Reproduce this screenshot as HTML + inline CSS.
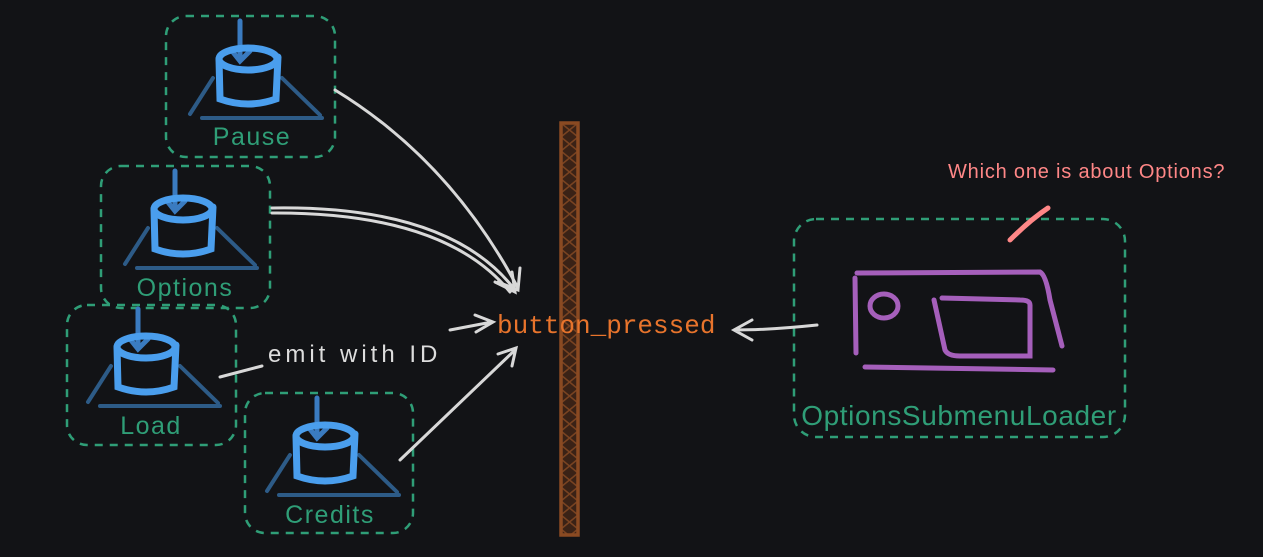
<!DOCTYPE html>
<html><head><style>
html,body{margin:0;padding:0;background:#121316;}
svg{display:block}
</style></head><body>
<svg width="1263" height="557" viewBox="0 0 1263 557" xmlns="http://www.w3.org/2000/svg" font-family="Liberation Sans, sans-serif">
<defs>
<pattern id="x" width="17" height="14" patternUnits="userSpaceOnUse" x="561" y="123">
<path d="M0 0 L17 14 M17 0 L0 14" stroke="#7a4321" stroke-width="1.5"/>
</pattern>
<g id="icon">
<path d="M-35 49 L-58 85 M34 49 L72 86" stroke="#2d5b87" stroke-width="4" fill="none" stroke-linecap="round"/>
<path d="M-46 89 L74 89" stroke="#2d5b87" stroke-width="4" stroke-linecap="round"/>
<path d="M-8 -8 L-8 30 M-16 22 L-8 32 L2 22" stroke="#3a7bc0" stroke-width="5" fill="none" stroke-linecap="round"/>
<ellipse cx="0" cy="30" rx="29" ry="11" fill="none" stroke="#4a9eed" stroke-width="7"/>
<path d="M-29 30 L-28 70 Q0 80 28 70 L30 28" fill="none" stroke="#4a9eed" stroke-width="7" stroke-linecap="round"/>
</g>
</defs>
<g fill="none" stroke="#2f9e77" stroke-width="2.5" stroke-dasharray="8 7">
<rect x="166" y="16" width="169" height="141" rx="20"/>
<rect x="101" y="166" width="169" height="142" rx="20"/>
<rect x="67" y="305" width="169" height="140" rx="20"/>
<rect x="245" y="393" width="168" height="140" rx="20"/>
<rect x="794" y="219" width="331" height="218" rx="22"/>
</g>
<use href="#icon" x="248" y="29"/>
<use href="#icon" x="183" y="179"/>
<use href="#icon" x="146" y="317"/>
<use href="#icon" x="325" y="406"/>
<g fill="#2f9e77" font-size="25" text-anchor="middle" letter-spacing="1.5">
<text x="252" y="145">Pause</text>
<text x="185" y="296">Options</text>
<text x="151" y="434">Load</text>
<text x="330" y="523">Credits</text>
<text x="959" y="425" font-size="28" letter-spacing="0.6">OptionsSubmenuLoader</text>
</g>
<rect x="561" y="123" width="17" height="412" fill="#3a2216"/>
<rect x="561" y="123" width="17" height="412" fill="url(#x)" stroke="#8a4a22" stroke-width="3.5"/>
<text x="497" y="333" fill="#e8742c" font-size="26" font-family="Liberation Mono, monospace">button_pressed</text>
<text x="268" y="362" fill="#dddddd" font-size="24" letter-spacing="4">emit with ID</text>
<text x="948" y="178" fill="#ff8787" font-size="20" letter-spacing="0.8">Which one is about Options?</text>
<path d="M1010 240 Q1030 220 1048 208" stroke="#ff8787" stroke-width="5" fill="none" stroke-linecap="round"/>
<g fill="none" stroke="#d8d8d8" stroke-width="3" stroke-linecap="round">
<path d="M335 90 Q450 160 518 288 M498 282 L518 290 L520 268"/>
<path d="M272 208 Q450 205 515 290 M495 282 L515 292 L512 272"/>
<path d="M272 213 Q445 212 510 292"/>
<path d="M220 377 L262 366 M450 330 L492 322 M475 315 L493 322 L476 332"/>
<path d="M400 460 L515 350 M498 354 L516 348 L512 366"/>
<path d="M817 325 Q770 330 734 330 M752 320 L734 330 L752 340"/>
</g>
<g fill="none" stroke="#a55fbb" stroke-width="5" stroke-linecap="round">
<path d="M855 278 L856 353 M857 273 L1040 272 Q1046 275 1050 300 L1062 346"/>
<path d="M865 367 L1053 370"/>
<ellipse cx="884" cy="306" rx="14" ry="12"/>
<path d="M934 300 L945 350 Q948 356 960 356 L1030 356 L1030 305 Q1030 300 1020 300 L942 298"/>
</g>
</svg>
</body></html>
